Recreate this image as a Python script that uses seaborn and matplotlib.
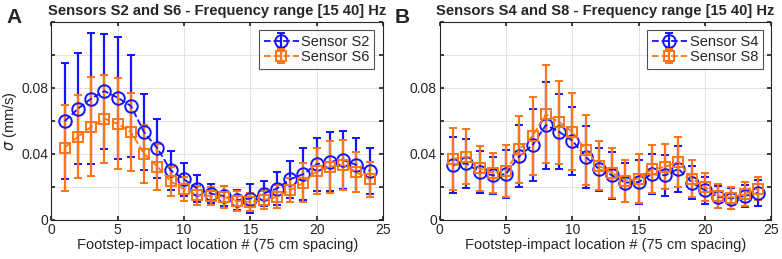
import matplotlib
matplotlib.use('Agg')
import matplotlib.pyplot as plt
import numpy as np
import seaborn as sns

# footstep-impact locations
loc = list(range(1, 25))

# panel A: sensors S2 and S6 (mean sigma and error half-width, mm/s)
s2_mean = [0.0598, 0.0673, 0.0735, 0.0780, 0.0740, 0.0690, 0.0530, 0.0433, 0.0300, 0.0246, 0.0190, 0.0160,
           0.0145, 0.0120, 0.0130, 0.0160, 0.0190, 0.0246, 0.0278, 0.0338, 0.0353, 0.0363, 0.0333, 0.0298]
s2_err = [0.0350, 0.0335, 0.0395, 0.0348, 0.0370, 0.0310, 0.0230, 0.0180, 0.0117, 0.0098, 0.0080, 0.0060,
          0.0060, 0.0060, 0.0085, 0.0075, 0.0100, 0.0110, 0.0155, 0.0160, 0.0180, 0.0175, 0.0165, 0.0140]
s6_mean = [0.0437, 0.0504, 0.0564, 0.0613, 0.0582, 0.0532, 0.0400, 0.0322, 0.0234, 0.0187, 0.0150, 0.0145,
           0.0140, 0.0115, 0.0110, 0.0120, 0.0140, 0.0180, 0.0226, 0.0296, 0.0322, 0.0333, 0.0290, 0.0246]
s6_err = [0.0260, 0.0250, 0.0300, 0.0267, 0.0275, 0.0235, 0.0175, 0.0140, 0.0087, 0.0075, 0.0058, 0.0055,
          0.0065, 0.0058, 0.0055, 0.0055, 0.0070, 0.0072, 0.0120, 0.0137, 0.0158, 0.0152, 0.0120, 0.0107]

# panel B: sensors S4 and S8
s4_mean = [0.0333, 0.0343, 0.0290, 0.0270, 0.0278, 0.0387, 0.0453, 0.0574, 0.0534, 0.0480, 0.0383, 0.0308,
           0.0270, 0.0226, 0.0230, 0.0278, 0.0270, 0.0310, 0.0226, 0.0180, 0.0140, 0.0130, 0.0145, 0.0165]
s4_err = [0.0168, 0.0150, 0.0125, 0.0113, 0.0147, 0.0187, 0.0218, 0.0263, 0.0227, 0.0206, 0.0188, 0.0130,
          0.0143, 0.0118, 0.0131, 0.0122, 0.0122, 0.0138, 0.0100, 0.0083, 0.0065, 0.0065, 0.0065, 0.0080]
s8_mean = [0.0369, 0.0383, 0.0312, 0.0286, 0.0296, 0.0427, 0.0508, 0.0640, 0.0592, 0.0534, 0.0423, 0.0328,
           0.0286, 0.0238, 0.0250, 0.0306, 0.0322, 0.0353, 0.0250, 0.0200, 0.0145, 0.0135, 0.0157, 0.0190]
s8_err = [0.0190, 0.0165, 0.0137, 0.0121, 0.0156, 0.0205, 0.0238, 0.0295, 0.0251, 0.0232, 0.0210, 0.0148,
          0.0152, 0.0128, 0.0148, 0.0145, 0.0137, 0.0152, 0.0112, 0.0085, 0.0070, 0.0067, 0.0070, 0.0070]

panels = [
    ('A', 'Sensors S2 and S6 - Frequency range [15 40] Hz', s2_mean, s2_err, 'Sensor S2', s6_mean, s6_err, 'Sensor S6'),
    ('B', 'Sensors S4 and S8 - Frequency range [15 40] Hz', s4_mean, s4_err, 'Sensor S4', s8_mean, s8_err, 'Sensor S8'),
]

sns.set_theme(style='whitegrid')
plt.rcParams['font.family'] = ['Liberation Sans', 'DejaVu Sans']
plt.rcParams.update({
    'axes.edgecolor': '#262626', 'axes.linewidth': 0.8, 'grid.color': '#e3e3e3', 'grid.linewidth': 0.7,
    'xtick.direction': 'in', 'ytick.direction': 'in', 'xtick.major.size': 3, 'ytick.major.size': 3,
    'xtick.bottom': True, 'xtick.top': True, 'ytick.left': True, 'ytick.right': True,
    'xtick.color': '#262626', 'ytick.color': '#262626',
})

blue = '#1414ff'
orange = '#ff7414'

fig = plt.figure(figsize=(7.82, 2.59), dpi=100)
lefts = [0.0657, 0.5623]

for (letter, title, m1, e1, l1, m2, e2, l2), left in zip(panels, lefts):
    ax = fig.add_axes([left, 0.1506, 0.424, 0.7656])
    ax.errorbar(loc, m1, yerr=e1, fmt='o', ls='--', color=blue, mfc='none', mec=blue, ms=9, mew=1.4,
                lw=1.3, elinewidth=1.6, capsize=3.2, capthick=1.6, label=l1)
    ax.errorbar(loc, m2, yerr=e2, fmt='s', ls='--', color=orange, mfc='none', mec=orange, ms=7.5, mew=1.4,
                lw=1.3, elinewidth=1.6, capsize=3.2, capthick=1.6, label=l2)
    ax.set_xlim(0, 25)
    ax.set_ylim(0, 0.12)
    ax.set_xticks(range(0, 26, 5))
    ax.set_yticks(np.arange(0, 0.121, 0.02))
    ax.set_yticklabels(['0', '', '0.04', '', '0.08', '', ''])
    ax.tick_params(labelsize=10, pad=2)
    for s in ax.spines.values():
        s.set_visible(True)
    ax.set_xlabel('Footstep-impact location # (75 cm spacing)', fontsize=10.5, labelpad=1)
    if letter == 'A':
        ax.set_ylabel(r'$\sigma$ (mm/s)', fontsize=10.5, labelpad=2)
    ax.set_title(title, fontsize=10.6, fontweight='bold', pad=5)
    leg = ax.legend(loc='upper right', fontsize=10.5, frameon=True, fancybox=False, handlelength=2.4,
                    borderpad=0.3, labelspacing=0.1, handletextpad=0.2, borderaxespad=0.6)
    leg.get_frame().set_edgecolor('#262626')
    leg.get_frame().set_linewidth(0.8)
    fig.text(left - 0.058, 0.91, letter, fontsize=15, fontweight='bold')

fig.savefig('out.png', dpi=100)
